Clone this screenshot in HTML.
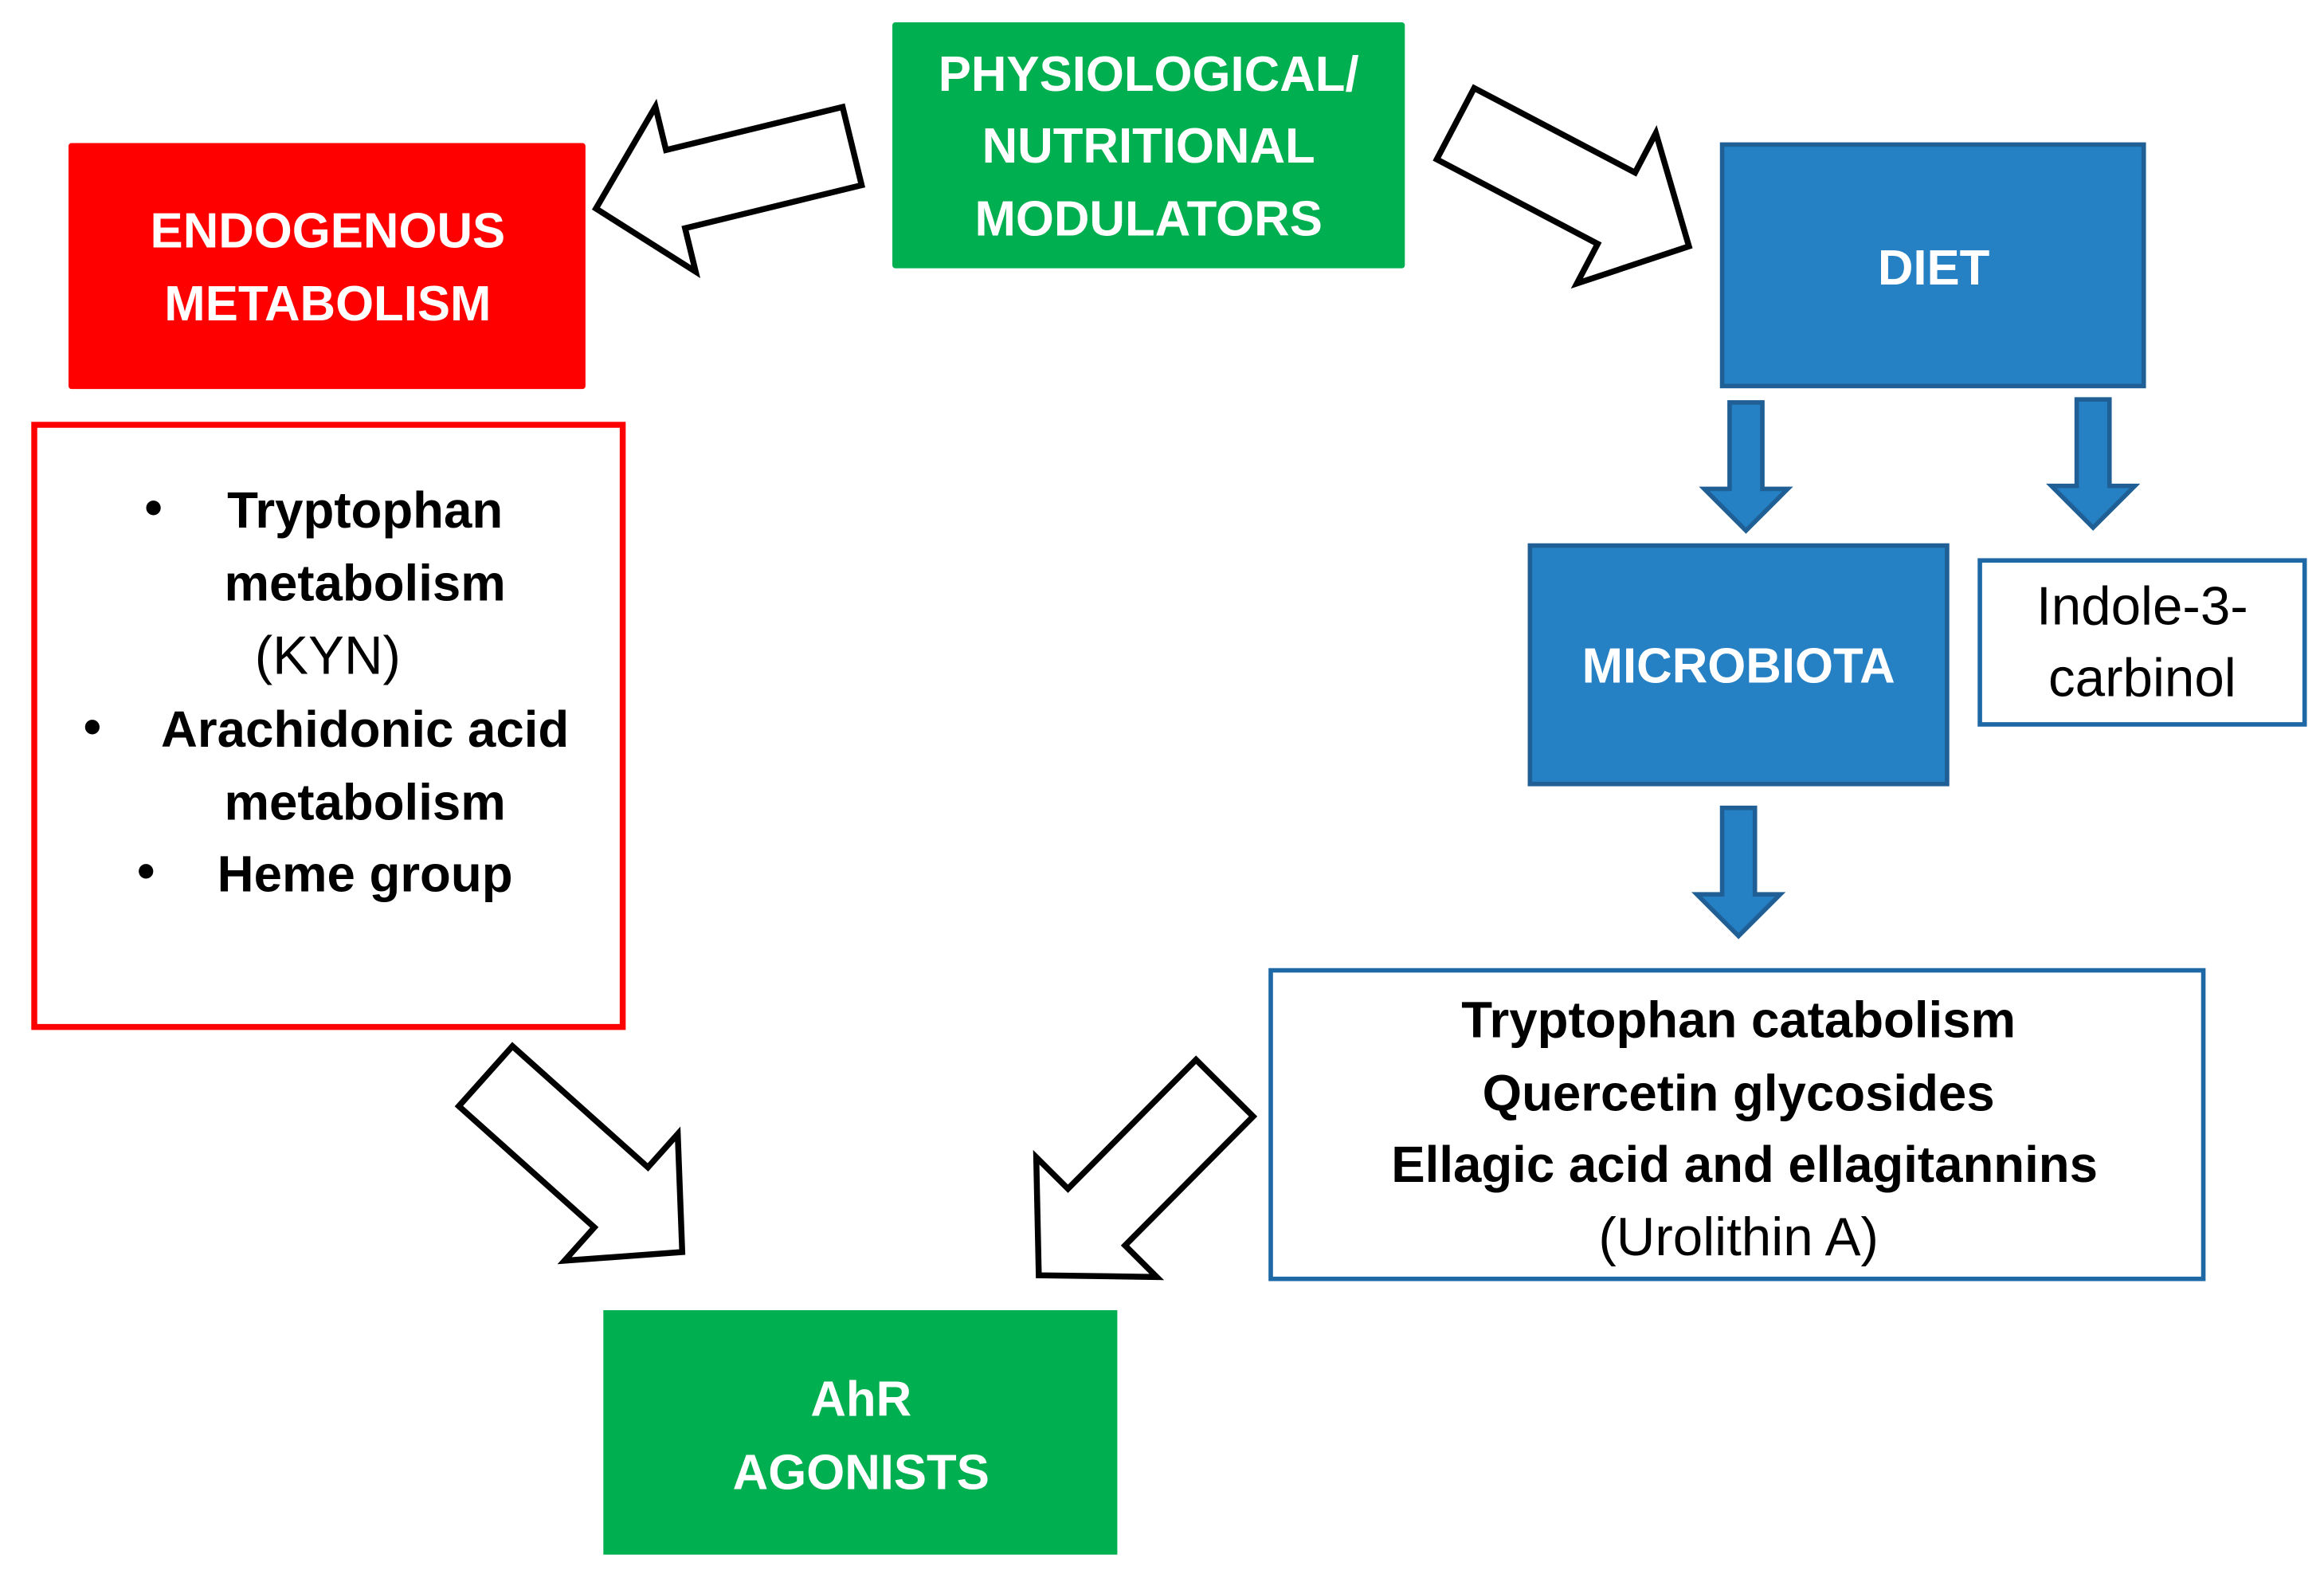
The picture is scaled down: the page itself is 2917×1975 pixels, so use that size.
<!DOCTYPE html>
<html><head><meta charset="utf-8"><style>
html,body{margin:0;padding:0;background:#fff;}
svg{display:block;}
text{font-family:"Liberation Sans",sans-serif;}
</style></head><body>
<svg width="2917" height="1975" viewBox="0 0 1560 1056" preserveAspectRatio="none" xmlns="http://www.w3.org/2000/svg">
<defs>
<polygon id="ha" points="0,-27 122,-27 122,-57 177,0 122,57 122,27 0,27" fill="#fff" stroke="#000" stroke-width="4" stroke-linejoin="miter"/>
<polygon id="ba" points="-11,0 11,0 11,58 28,58 0,86 -28,58 -11,58" fill="#2581c4" stroke="#1f5f95" stroke-width="3"/>
</defs>
<rect x="599" y="15" width="344" height="165" rx="2" fill="#00b050"/>
<rect x="46" y="96" width="347" height="165" rx="2" fill="#ff0000"/>
<rect x="23" y="285" width="395" height="404" fill="#fff" stroke="#ff0000" stroke-width="4"/>
<rect x="1156" y="97" width="283" height="162" fill="#2581c4" stroke="#1f5f95" stroke-width="3"/>
<rect x="1027" y="366" width="280" height="160" fill="#2581c4" stroke="#1f5f95" stroke-width="3"/>
<rect x="1329" y="376" width="218" height="110" fill="#fff" stroke="#1f68a6" stroke-width="3"/>
<rect x="853" y="651" width="626" height="207" fill="#fff" stroke="#1f68a6" stroke-width="3"/>
<rect x="405" y="879" width="345" height="164" fill="#00b050"/>
<use href="#ha" transform="translate(572,98) rotate(166.3)"/>
<use href="#ha" transform="translate(977,83) rotate(27.7)"/>
<use href="#ha" transform="translate(326,722) rotate(41.8)"/>
<use href="#ha" transform="translate(822,730) rotate(134.8)"/>
<use href="#ba" transform="translate(1172,270)"/>
<use href="#ba" transform="translate(1405,268)"/>
<use href="#ba" transform="translate(1167,542)"/>
<g fill="#fff" font-weight="bold" font-size="33" text-anchor="middle">
<text x="771" y="61">PHYSIOLOGICAL/</text>
<text x="771" y="109">NUTRITIONAL</text>
<text x="771" y="158">MODULATORS</text>
<text x="220" y="166">ENDOGENOUS</text>
<text x="220" y="215">METABOLISM</text>
<text x="1298" y="191">DIET</text>
<text x="1167" y="458">MICROBIOTA</text>
<text x="578" y="950">AhR</text>
<text x="578" y="999">AGONISTS</text>
</g>
<g fill="#000" font-size="34" text-anchor="middle" font-weight="bold">
<text x="103" y="352">•</text>
<text x="245" y="354">Tryptophan</text>
<text x="245" y="403">metabolism</text>
<text x="62" y="499">•</text>
<text x="245" y="501">Arachidonic acid</text>
<text x="245" y="550">metabolism</text>
<text x="98" y="596">•</text>
<text x="245" y="598">Heme group</text>
<text x="1167" y="696">Tryptophan catabolism</text>
<text x="1167" y="745">Quercetin glycosides</text>
<text x="1171" y="793">Ellagic acid and ellagitannins</text>
</g>
<g fill="#000" font-size="36" text-anchor="middle">
<text x="220" y="452">(KYN)</text>
<text x="1438" y="419">Indole-3-</text>
<text x="1438" y="467">carbinol</text>
<text x="1167" y="842">(Urolithin A)</text>
</g>
</svg>
</body></html>
